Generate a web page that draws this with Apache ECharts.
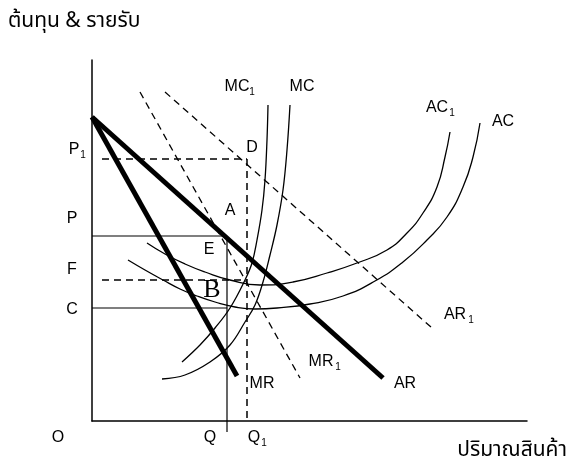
<!DOCTYPE html>
<html>
<head>
<meta charset="utf-8">
<script src="https://cdn.jsdelivr.net/npm/echarts@6/dist/echarts.min.js"></script>
<style>
  html, body { margin: 0; padding: 0; background: #fff; }
  #chart-container { width: 572px; height: 468px; }
</style>
</head>
<body>
<div id="chart-container"></div>
<script>
var dom = document.getElementById("chart-container");
var myChart = echarts.init(dom, null, { renderer: "canvas" });

// curves (quantity, cost/revenue)
var arLine = [[0, 304], [291, 43]];
var mrLine = [[0, 304], [145, 45]];
var ar1Line = [[73, 329], [340, 93]];
var mr1Line = [[48, 329], [208, 43]];
var mcCurve = [[70, 42], [93, 46], [118, 59], [138, 76], [153, 99], [163, 116], [171, 139], [178, 166], [185, 196], [191, 231], [195, 271], [198, 316]];
var mc1Curve = [[90, 59], [108, 76], [123, 93], [138, 113], [153, 141], [160, 158], [165, 181], [170, 211], [173, 241], [175, 281], [176, 316]];
var acCurve = [[36, 161], [53, 151], [71, 141], [88, 132], [105, 125], [123, 119], [143, 114], [163, 112], [185, 113], [218, 117], [251, 125], [283, 140], [311, 159], [335, 181], [355, 204], [371, 234], [381, 264], [388, 298]];
var ac1Curve = [[55, 178], [73, 167], [93, 157], [113, 149], [138, 141], [168, 136], [201, 139], [235, 148], [265, 158], [295, 171], [315, 188], [331, 208], [345, 234], [353, 264], [358, 289]];

// price levels and quantities
var p1Level = 262, pLevel = 185, fLevel = 141, cLevel = 113;
var qQty = 135, q1Qty = 155;

var latin = '"Liberation Sans", Arial, sans-serif';
var thai = 'Tahoma, "Noto Sans Thai", "Noto Sans", "DejaVu Sans", sans-serif';

function line(data, width, dashed, smooth) {
  return {
    type: "line",
    data: data,
    symbol: "none",
    smooth: smooth || false,
    clip: false,
    lineStyle: { color: "#000", width: width, type: dashed ? [7, 5] : "solid" },
    silent: true
  };
}

function txt(s, x, y, size, font) {
  return {
    type: "text",
    x: x,
    y: y,
    style: {
      text: s,
      fill: "#000",
      font: (size || 16) + "px " + (font || latin),
      align: "center",
      verticalAlign: "middle"
    }
  };
}

var option = {
  animation: false,
  backgroundColor: "#fff",
  grid: { left: 92, top: 60, right: 45, bottom: 47 },
  xAxis: {
    type: "value", min: 0, max: 435,
    axisLine: { show: true, onZero: false, lineStyle: { color: "#000", width: 1.5 } },
    axisTick: { show: false }, axisLabel: { show: false }, splitLine: { show: false }
  },
  yAxis: {
    type: "value", min: 0, max: 361,
    axisLine: { show: true, onZero: false, lineStyle: { color: "#000", width: 1.5 } },
    axisTick: { show: false }, axisLabel: { show: false }, splitLine: { show: false }
  },
  series: [
    line([[10, p1Level], [q1Qty, p1Level]], 1.3, true),
    line([[q1Qty, p1Level], [q1Qty, 0]], 1.5, true),
    line([[0, pLevel], [qQty, pLevel]], 1.2, false),
    line([[qQty, pLevel], [qQty, -11]], 1.2, false),
    line([[10, fLevel], [q1Qty, fLevel]], 1.3, true),
    line([[0, cLevel], [qQty, cLevel]], 1.2, false),
    line(ar1Line, 1.3, true),
    line(mr1Line, 1.3, true),
    line(mcCurve, 1.3, false, 0.4),
    line(mc1Curve, 1.3, false, 0.4),
    line(acCurve, 1.3, false, 0.5),
    line(ac1Curve, 1.3, false, 0.5),
    line(arLine, 5, false),
    line(mrLine, 5, false)
  ],
  graphic: [
    { type: "text", left: 8, top: 12, style: { text: "ต้นทุน & รายรับ", fill: "#000", font: "21px " + thai } },
    { type: "text", right: 5, top: 441, style: { text: "ปริมาณสินค้า", fill: "#000", font: "21px " + thai } },
    txt("P", 74, 150), txt("1", 83, 155, 10),
    txt("P", 72, 219),
    txt("F", 72, 270),
    txt("C", 72, 310),
    txt("O", 58, 438),
    txt("Q", 210, 438),
    txt("Q", 254, 438), txt("1", 264, 443, 10),
    txt("D", 252, 148),
    txt("A", 230, 211),
    txt("E", 209, 250),
    txt("B", 212, 290, 26, '"Liberation Serif", "DejaVu Serif", serif'),
    txt("MC", 237, 87), txt("1", 252, 92, 10),
    txt("MC", 302, 87),
    txt("AC", 437, 108), txt("1", 452, 113, 10),
    txt("AC", 503, 122),
    txt("AR", 455, 315), txt("1", 471, 320, 10),
    txt("MR", 321, 362), txt("1", 338, 367, 10),
    txt("MR", 262, 384),
    txt("AR", 405, 384)
  ]
};

myChart.setOption(option);
window.addEventListener("resize", myChart.resize);
</script>
</body>
</html>
